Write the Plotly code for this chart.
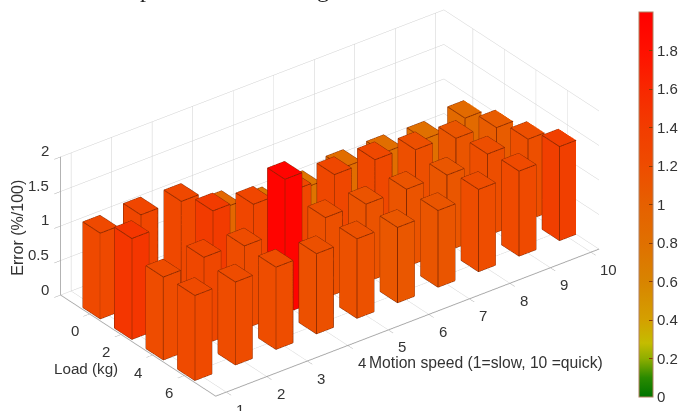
import math
import plotly.graph_objects as go

speeds = [1, 2, 3, 4, 5, 6, 7, 8, 9, 10]
loads = [0, 2, 4, 6]
z_ticks = [0, 0.5, 1, 1.5, 2]
z_tick_text = ["0", "0.5", "1", "1.5", "2"]
error_load0 = [1.24, 1.28, 1.25, 0.92, 0.75, 0.76, 0.84, 0.83, 0.80, 0.88]
error_load2 = [1.46, 0, 1.41, 1.28, 1.26, 1.26, 1.25, 1.17, 1.11, 1.04]
error_load4 = [1.20, 1.26, 1.20, 1.94, 1.16, 1.13, 1.12, 1.10, 1.18, 1.17]
error_load6 = [1.23, 1.20, 1.19, 1.16, 1.15, 1.09, 1.11, 1.19, 1.23, 1.36]
errors = [error_load0, error_load2, error_load4, error_load6]

colorscale = [[0.0, "#007400"], [0.05, "#2a8a00"], [0.1, "#8fae00"], [0.14, "#c4bc00"],
              [0.2, "#d4a000"], [0.3, "#d88400"], [0.4, "#e07000"], [0.5, "#e66000"],
              [0.6, "#ee4c00"], [0.7, "#f23c00"], [0.8, "#f82800"], [0.9, "#ff1000"], [1.0, "#ff0000"]]

X_RANGE = [0.74, 10.2]
Y_RANGE = [8, -1.84]
W_S, W_L = 0.42, 1.1
TEXT = "#333333"
vx, vy, vz, fi, fj, fk, inten = [], [], [], [], [], [], []
ex, ey, ez = [], [], []
QUADS = [(0, 1, 2, 3), (4, 5, 6, 7), (0, 1, 5, 4), (1, 2, 6, 5), (2, 3, 7, 6), (3, 0, 4, 7)]
for load, row in zip(loads, errors):
    for s, v in zip(speeds, row):
        if v <= 0:
            continue
        x0, x1 = s - W_S / 2, s + W_S / 2
        y0, y1 = load - W_L / 2, load + W_L / 2
        n = len(vx)
        corners = [(x0, y1, 0), (x1, y1, 0), (x1, y0, 0), (x0, y0, 0),
                   (x0, y1, v), (x1, y1, v), (x1, y0, v), (x0, y0, v)]
        for c in corners:
            vx.append(c[0]); vy.append(c[1]); vz.append(c[2])
        for a, b, c, d in QUADS:
            fi += [n + a, n + a]; fj += [n + b, n + c]; fk += [n + c, n + d]
            inten += [v, v]
        for path in [(4, 5, 6, 7, 4), (0, 4), (1, 5), (3, 7), (3, 0, 1)]:
            for p in path:
                ex.append(corners[p][0]); ey.append(corners[p][1]); ez.append(corners[p][2])
            ex.append(None); ey.append(None); ez.append(None)

fig = go.Figure()
fig.add_trace(go.Mesh3d(
    x=vx, y=vy, z=vz, i=fi, j=fj, k=fk, intensity=inten, intensitymode="cell",
    colorscale=colorscale, cmin=0, cmax=2, flatshading=True,
    lighting=dict(ambient=1, diffuse=0, specular=0, roughness=1, fresnel=0),
    hoverinfo="skip",
    colorbar=dict(
        x=649 / 682, xanchor="left", xpad=0, ypad=0,
        y=14 / 411, yanchor="bottom", lenmode="fraction", len=385 / 411,
        thicknessmode="pixels", thickness=14,
        tickmode="array", tickvals=[0, .2, .4, .6, .8, 1, 1.2, 1.4, 1.6, 1.8],
        ticktext=["0", "0.2", "0.4", "0.6", "0.8", "1", "1.2", "1.4", "1.6", "1.8"],
        ticks="inside", ticklen=4, tickcolor="#8a3a00", tickwidth=1,
        outlinecolor="#b08060", outlinewidth=1,
        tickfont=dict(family="Liberation Sans", size=15, color=TEXT),
    ),
))
fig.add_trace(go.Scatter3d(x=ex, y=ey, z=ez, mode="lines", hoverinfo="skip", showlegend=False,
                           line=dict(color="#7a2400", width=1.6)))

az, el, R = math.radians(-37.5), math.radians(30), 2.0
S = 1.24
C = dict(x=0.0184, y=-0.0216, z=-0.0106)
eye = dict(x=R * math.sin(az) * math.cos(el) + C["x"], y=-R * math.cos(az) * math.cos(el) + C["y"],
           z=R * math.sin(el) + C["z"])
axis = dict(showbackground=False, showgrid=True, gridcolor="#cfcfcf", gridwidth=1, showline=True,
            linecolor="#a8a8a8", linewidth=2, zeroline=False, ticks="outside", ticklen=8, tickcolor="#a8a8a8",
            showticklabels=False, title=dict(text=""), showspikes=False)


def tick_note(text, x, y, z, xshift, yshift, xanchor="center"):
    return dict(text=text, x=x, y=y, z=z, xshift=xshift, yshift=yshift, xanchor=xanchor, yanchor="middle",
                showarrow=False, font=dict(family="Liberation Sans", size=15, color=TEXT))


scene_notes = [tick_note(str(s), s, Y_RANGE[0], 0, 18 if s == 10 else 14, -17) for s in speeds]
scene_notes += [tick_note(str(v), X_RANGE[0], v, 0, -15, -17) for v in loads]
scene_notes += [tick_note(t, X_RANGE[0] + 0.01, Y_RANGE[1] + 0.01, min(v, 1.999), -10, 6, "right")
                for v, t in zip(z_ticks, z_tick_text)]

fig.update_layout(
    width=682, height=411, margin=dict(l=0, r=0, t=0, b=0), paper_bgcolor="white", showlegend=False,
    font=dict(family="Liberation Sans", color=TEXT),
    scene=dict(
        domain=dict(x=[0, 1], y=[0, 1]),
        aspectmode="manual", aspectratio=dict(x=1.896 * S, y=1 * S, z=0.626 * S),
        camera=dict(eye=eye, up=dict(x=0, y=0, z=1), center=C,
                    projection=dict(type="orthographic")),
        xaxis=dict(axis, range=X_RANGE, tickmode="array", tickvals=speeds),
        yaxis=dict(axis, range=Y_RANGE, tickmode="array", tickvals=loads),
        zaxis=dict(axis, range=[0, 2], tickmode="array", tickvals=z_ticks),
        annotations=scene_notes,
    ),
    annotations=[
        dict(text="Error (%/100)", x=17 / 682, y=1 - 228 / 411, xref="paper", yref="paper", textangle=-90,
             xanchor="center", yanchor="middle", showarrow=False, font=dict(size=16, color=TEXT)),
        dict(text="Load (kg)", x=87 / 682, y=1 - 368 / 411, xref="paper", yref="paper",
             xanchor="center", yanchor="middle", showarrow=False, font=dict(size=15.2, color=TEXT)),
        dict(text="Motion speed (1=slow, 10 =quick)", x=494 / 682, y=1 - 362 / 411, xref="paper", yref="paper",
             xanchor="center", yanchor="middle", showarrow=False, font=dict(size=15.7, color=TEXT)),
        dict(text="p", x=148 / 682, y=1, xref="paper", yref="paper", yshift=-4, xanchor="center", yanchor="bottom",
             showarrow=False, font=dict(family="Liberation Serif", size=24, color="#222222")),
        dict(text="g", x=328 / 682, y=1, xref="paper", yref="paper", yshift=-4, xanchor="center", yanchor="bottom",
             showarrow=False, font=dict(family="Liberation Serif", size=24, color="#222222")),
    ],
)
fig.write_html("out.html", config=dict(displayModeBar=False),
               post_script="document.body.style.margin='0';document.documentElement.style.overflow='hidden';")
